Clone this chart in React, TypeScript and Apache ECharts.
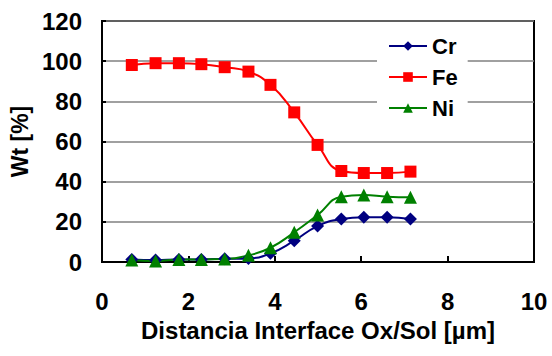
import React, { useEffect, useRef } from "react";
import * as echarts from "echarts";

const distance = [0.69, 1.24, 1.78, 2.3, 2.84, 3.39, 3.9, 4.45, 4.99, 5.54, 6.06, 6.6, 7.14];
const crValues = [1.3, 1.0, 1.3, 1.3, 1.6, 1.8, 4.3, 10.6, 17.9, 21.4, 22.3, 22.3, 21.4];
const feValues = [98.1, 99.0, 99.0, 98.5, 97.0, 94.8, 88.2, 74.5, 58.3, 45.3, 44.3, 44.3, 45.0];
const niValues = [1.0, 0.5, 1.3, 1.3, 1.5, 3.3, 7.1, 14.8, 23.4, 32.5, 33.4, 32.5, 32.2];
const seriesNames = ["Cr", "Fe", "Ni"];
const xTitle = "Distancia Interface Ox/Sol [µm]";
const yTitle = "Wt [%]";

const FONT = "'Liberation Sans', Arial, sans-serif";

export default function App() {
  const ref = useRef<HTMLDivElement>(null);
  useEffect(() => {
    if (!ref.current) return;
    const chart = echarts.init(ref.current, null, { renderer: "svg" });
    const pair = (vals: number[]) => distance.map((x, i) => [x, vals[i]]);
    const mk = (name: string, vals: number[], color: string, symbol: string, size: number) => ({
      name,
      type: "line",
      data: pair(vals),
      smooth: true,
      symbol,
      symbolSize: size,
      showAllSymbol: true,
      lineStyle: { color, width: 2 },
      itemStyle: { color, borderWidth: 0 },
    });
    chart.setOption({
      animation: false,
      backgroundColor: "#fff",
      textStyle: { fontFamily: FONT },
      grid: {
        left: 102,
        right: 18,
        top: 21,
        bottom: 94,
        show: true,
        borderColor: "#000",
        borderWidth: 2,
        backgroundColor: "transparent",
      },
      legend: {
        orient: "vertical",
        left: 377,
        top: 27,
        padding: [8, 10, 8, 11],
        backgroundColor: "#fff",
        itemWidth: 38,
        itemHeight: 12,
        itemGap: 9,
        data: seriesNames,
        textStyle: { fontFamily: FONT, fontWeight: "bold", fontSize: 22, color: "#000" },
      },
      xAxis: {
        type: "value",
        min: 0,
        max: 10,
        interval: 2,
        name: xTitle,
        nameLocation: "middle",
        nameGap: 56,
        nameTextStyle: { fontFamily: FONT, fontWeight: "bold", fontSize: 24, color: "#000" },
        axisLine: { show: true, onZero: false, lineStyle: { color: "#000", width: 2 } },
        axisTick: { show: true, inside: true, length: 6, lineStyle: { color: "#000", width: 2 } },
        axisLabel: { margin: 27, fontFamily: FONT, fontWeight: "bold", fontSize: 24, color: "#000" },
        splitLine: { show: false },
      },
      yAxis: {
        type: "value",
        min: 0,
        max: 120,
        interval: 20,
        name: yTitle,
        nameLocation: "middle",
        nameGap: 68,
        nameTextStyle: { fontFamily: FONT, fontWeight: "bold", fontSize: 23, color: "#000" },
        axisLine: { show: true, lineStyle: { color: "#000", width: 2 } },
        axisTick: { show: true, inside: true, length: 4, lineStyle: { color: "#000", width: 2 } },
        axisLabel: { margin: 20, fontFamily: FONT, fontWeight: "bold", fontSize: 24, color: "#000" },
        splitLine: { show: true, lineStyle: { color: "#808080", width: 1.5 } },
      },
      series: [
        mk(seriesNames[0], crValues, "#000080", "diamond", 13),
        mk(seriesNames[1], feValues, "#ff0000", "rect", 12),
        mk(seriesNames[2], niValues, "#008000", "triangle", 13),
      ],
    });
    return () => chart.dispose();
  }, []);
  return (
    <div
      ref={ref}
      style={{ position: "absolute", left: 0, top: 0, width: 552, height: 356 }}
    />
  );
}
